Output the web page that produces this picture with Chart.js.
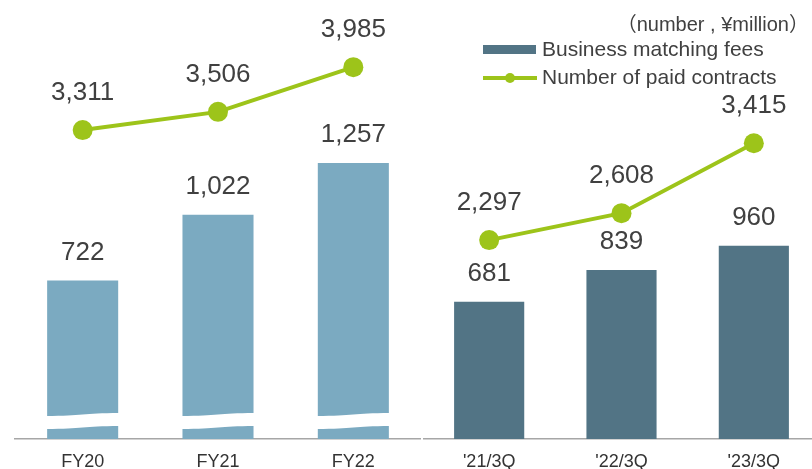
<!DOCTYPE html>
<html>
<head>
<meta charset="utf-8">
<script src="https://cdn.jsdelivr.net/npm/chart.js@4"></script>
<style>
  html, body { margin: 0; padding: 0; background: #fff; overflow: hidden; }
  body { width: 812px; height: 469px; position: relative;
         font-family: "Liberation Sans", Arial, "Noto Sans CJK JP", sans-serif; color: #404040; }
  #leftWrap { position: absolute; left: 0; top: 0; }
  #rightWrap { position: absolute; left: 423px; top: 0; }
  .unit { position: absolute; right: 3px; top: 8px; font-size: 20px; white-space: nowrap; }
  .legText { position: absolute; left: 542px; font-size: 21px; white-space: nowrap; line-height: 24px; }
  .legBar { position: absolute; left: 483px; top: 45px; width: 53px; height: 9px; background: #527485; }
  .legLine { position: absolute; left: 483px; top: 76px; width: 54px; height: 4px; background: #9dc41a; }
  .legDot { position: absolute; left: 505px; top: 73px; width: 10px; height: 10px; border-radius: 50%; background: #9dc41a; }
</style>
</head>
<body>
<div id="leftWrap"><canvas id="leftChart" width="421" height="469"></canvas></div>
<div id="rightWrap"><canvas id="rightChart" width="397" height="469"></canvas></div>

<div class="unit">（number , ¥million）</div>
<div class="legBar"></div>
<div class="legText" style="top:37px">Business matching fees</div>
<div class="legLine"></div>
<div class="legDot"></div>
<div class="legText" style="top:65px">Number of paid contracts</div>

<script>
// fiscal years (left panel)
const yearLabels = ['FY20', 'FY21', 'FY22'];
const yearFees = [722, 1022, 1257];
const yearContracts = [3311, 3506, 3985];

// third quarters (right panel)
const quarterLabels = ["'21/3Q", "'22/3Q", "'23/3Q"];
const quarterFees = [681, 839, 960];
const quarterContracts = [2297, 2608, 3415];

const textColor = '#404040';
const greenColor = '#9dc41a';
const fontFamily = '"Liberation Sans", Arial, sans-serif';

/**
 * Numbers above each bar and point.
 */
const valueLabels = {
  id: 'valueLabels',
  afterDatasetsDraw(chart) {
    const ctx = chart.ctx;
    ctx.save();
    ctx.font = '26px ' + fontFamily;
    ctx.fillStyle = textColor;
    ctx.textAlign = 'center';
    ctx.textBaseline = 'middle';
    chart.data.datasets.forEach((ds, i) => {
      const meta = chart.getDatasetMeta(i);
      const off = ds.type === 'line' ? 37 : 28;
      meta.data.forEach((el, j) => {
        ctx.fillText(ds.data[j].toLocaleString('en-US'), el.x, el.y - off);
      });
    });
    ctx.restore();
  },
};

/**
 * White wavy band that marks the broken bars in the left panel.
 */
const barBreak = {
  id: 'barBreak',
  afterDatasetsDraw(chart) {
    const ctx = chart.ctx;
    const base = chart.chartArea.bottom;
    const meta = chart.getDatasetMeta(1);
    ctx.save();
    ctx.fillStyle = '#ffffff';
    meta.data.forEach(bar => {
      const l = bar.x - bar.width / 2 - 1;
      const r = bar.x + bar.width / 2 + 1;
      const m = (l + r) / 2;
      ctx.beginPath();
      ctx.moveTo(l, base - 23);
      ctx.bezierCurveTo(m, base - 23, m, base - 26, r, base - 26);
      ctx.lineTo(r, base - 13);
      ctx.bezierCurveTo(m, base - 13, m, base - 10, l, base - 10);
      ctx.closePath();
      ctx.fill();
    });
    ctx.restore();
  },
};

function panelOptions(padLeft, barMax, lineMax) {
  return {
    responsive: false,
    animation: false,
    layout: { autoPadding: false, padding: { left: padLeft, right: 0, top: 0, bottom: 0 } },
    plugins: {
      legend: { display: false },
      tooltip: { enabled: false },
    },
    scales: {
      x: {
        grid: { display: false, drawTicks: false },
        border: { display: true, color: '#a6a6a6', width: 1.5 },
        ticks: { color: '#333333', font: { family: fontFamily, size: 18 }, padding: 12 },
        afterFit(scale) { scale.height = 30; },
      },
      yBar: { display: false, min: 0, max: barMax },
      yLine: { display: false, min: 0, max: lineMax },
    },
  };
}

function panelData(labels, fees, contracts, barColor, barPct) {
  return {
    labels: labels,
    datasets: [
      {
        type: 'line',
        label: 'Number of paid contracts',
        data: contracts,
        yAxisID: 'yLine',
        borderColor: greenColor,
        borderWidth: 4,
        pointRadius: 10,
        pointBackgroundColor: greenColor,
        pointBorderWidth: 0,
        tension: 0,
        clip: false,
        order: 0,
      },
      {
        type: 'bar',
        label: 'Business matching fees',
        data: fees,
        yAxisID: 'yBar',
        backgroundColor: barColor,
        categoryPercentage: 1,
        barPercentage: barPct,
        order: 1,
      },
    ],
  };
}

new Chart(document.getElementById('leftChart').getContext('2d'), {
  type: 'bar',
  data: panelData(yearLabels, yearFees, yearContracts, '#7baac1', 0.525),
  options: panelOptions(15, 2000, 4705),
  plugins: [barBreak, valueLabels],
});

new Chart(document.getElementById('rightChart').getContext('2d'), {
  type: 'bar',
  data: panelData(quarterLabels, quarterFees, quarterContracts, '#527485', 0.53),
  options: panelOptions(0, 2180, 5070),
  plugins: [valueLabels],
});
</script>
</body>
</html>
